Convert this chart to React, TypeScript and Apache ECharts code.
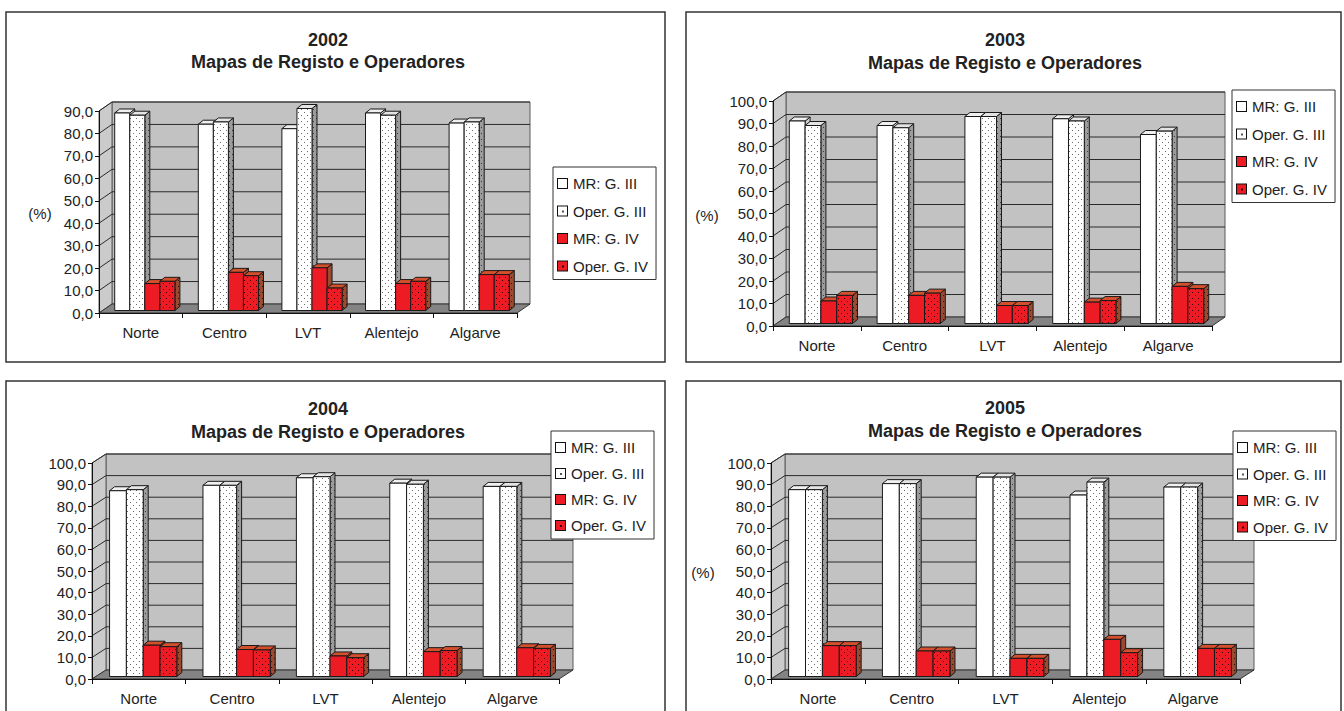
import React, { useEffect, useRef } from 'react';
import * as echarts from 'echarts';

const categories = ['Norte', 'Centro', 'LVT', 'Alentejo', 'Algarve'];
const seriesNames = ['MR: G. III', 'Oper. G. III', 'MR: G. IV', 'Oper. G. IV'];
const years = ['2002', '2003', '2004', '2005'];
const subtitle = 'Mapas de Registo e Operadores';
const unitLabel = '(%)';
const yMaxByYear = [90, 100, 100, 100];
const yInterval = 10;

const mr3_2002 = [88, 83, 81, 88, 83.5];
const op3_2002 = [87, 84, 90, 87, 84];
const mr4_2002 = [12, 17, 19, 12, 16];
const op4_2002 = [13, 15.5, 10, 13, 16];

const mr3_2003 = [90, 88, 92, 91, 84];
const op3_2003 = [88, 87, 92, 90, 85.5];
const mr4_2003 = [10, 12.5, 8, 9.5, 16.5];
const op4_2003 = [12.5, 13.5, 8, 10.2, 15.5];

const mr3_2004 = [86, 88.5, 92, 89.5, 88];
const op3_2004 = [86.5, 88.5, 92.5, 89, 88];
const mr4_2004 = [14.5, 12.5, 9.5, 11.5, 13.3];
const op4_2004 = [13.8, 12.3, 8.7, 12, 13];

const mr3_2005 = [86.5, 89.3, 92.3, 84, 87.7];
const op3_2005 = [86.5, 89.3, 92.3, 90, 87.7];
const mr4_2005 = [14.3, 11.8, 8.4, 17.2, 13];
const op4_2005 = [14.3, 11.8, 8.4, 11, 13];

const valuesByYear = [
  [mr3_2002, op3_2002, mr4_2002, op4_2002],
  [mr3_2003, op3_2003, mr4_2003, op4_2003],
  [mr3_2004, op3_2004, mr4_2004, op4_2004],
  [mr3_2005, op3_2005, mr4_2005, op4_2005],
];

// layout (pixels)
const panels = [
  { box: [6, 12, 659, 350], grid: { left: 99, top: 111, width: 418, height: 202 }, dx: 13, dy: -9, title: [328, 40, 62], legend: { left: 553, top: 167, gap: 12.5 }, pct: [40, 213] },
  { box: [686, 12, 655, 350], grid: { left: 773, top: 101, width: 439, height: 225 }, dx: 13, dy: -9, title: [1005, 40, 63], legend: { left: 1232, top: 90, gap: 12.5 }, pct: [707, 215] },
  { box: [6, 381, 659, 345], grid: { left: 92, top: 463, width: 467, height: 216 }, dx: 14, dy: -9, title: [328, 409, 432], legend: { left: 551, top: 431, gap: 11 }, pct: null },
  { box: [686, 381, 655, 345], grid: { left: 771, top: 463, width: 469, height: 216 }, dx: 14, dy: -9, title: [1005, 408, 431], legend: { left: 1233, top: 431, gap: 11.5 }, pct: [703, 572] },
];

const FONT = '"Liberation Sans", Arial, sans-serif';
const EDGE = '#1a1a1a';

function dotPattern(bg: string, dot: string, size: number, pts: number[][]) {
  const c = document.createElement('canvas');
  c.width = size;
  c.height = size;
  const g = c.getContext('2d')!;
  g.fillStyle = bg;
  g.fillRect(0, 0, size, size);
  g.fillStyle = dot;
  pts.forEach(([x, y]) => g.fillRect(x, y, 1, 1));
  return { image: c.toDataURL(), repeat: 'repeat', imageWidth: size, imageHeight: size } as any;
}

function legendIcon(bg: string, dot: string | null) {
  const s = 11;
  const c = document.createElement('canvas');
  c.width = s;
  c.height = s;
  const g = c.getContext('2d')!;
  g.fillStyle = '#111';
  g.fillRect(0, 0, s, s);
  g.fillStyle = bg;
  g.fillRect(1, 1, s - 2, s - 2);
  if (dot) {
    g.fillStyle = dot;
    g.fillRect(5, 5, 2, 2);
  }
  return 'image://' + c.toDataURL();
}

export default function App() {
  const ref = useRef<HTMLDivElement>(null);

  useEffect(() => {
    if (!ref.current) return;
    const chart = echarts.init(ref.current, undefined, { renderer: 'svg' });

    const fills = [
      { front: '#ffffff', top: '#f0f0f0', side: '#cfcfcf' },
      {
        front: dotPattern('#ffffff', '#6a6a6a', 6, [[1, 1], [4, 4]]),
        top: '#e4e4e4',
        side: dotPattern('#9c9c9c', '#3a3a3a', 6, [[1, 1], [4, 4]]),
      },
      { front: '#ed1c24', top: '#d4502c', side: '#9b4a2f' },
      {
        front: dotPattern('#ed1c24', '#3a0000', 6, [[1, 1], [4, 4]]),
        top: '#d4502c',
        side: dotPattern('#9b4a2f', '#2a1005', 6, [[1, 1], [4, 4]]),
      },
    ];
    const icons = [
      legendIcon('#ffffff', null),
      legendIcon('#ffffff', '#555555'),
      legendIcon('#ed1c24', null),
      legendIcon('#ed1c24', '#3a0000'),
    ];

    const grids: any[] = [];
    const xAxes: any[] = [];
    const yAxes: any[] = [];
    const series: any[] = [];
    const legends: any[] = [];
    const graphics: any[] = [];

    panels.forEach((p, i) => {
      const yMax = yMaxByYear[i];
      grids.push({ ...p.grid, containLabel: false });
      xAxes.push({
        gridIndex: i,
        type: 'category',
        data: categories,
        z: 5,
        axisLine: { lineStyle: { color: '#111', width: 1 } },
        axisTick: { show: true, length: 5, lineStyle: { color: '#111' } },
        axisLabel: { fontSize: 15, color: '#222', margin: 12, fontFamily: FONT },
        splitLine: { show: false },
      });
      yAxes.push({
        gridIndex: i,
        type: 'value',
        min: 0,
        max: yMax,
        interval: yInterval,
        z: 5,
        axisLine: { show: true, lineStyle: { color: '#111', width: 1 } },
        axisTick: { show: true, length: 4, lineStyle: { color: '#111' } },
        axisLabel: {
          fontSize: 15,
          color: '#222',
          margin: 6,
          fontFamily: FONT,
          formatter: (v: number) => v.toFixed(1).replace('.', ','),
        },
        splitLine: { show: false },
      });

      const dx = p.dx;
      const dy = p.dy;

      // frame: back wall, left wall, floor, grid lines
      series.push({
        type: 'custom',
        xAxisIndex: i,
        yAxisIndex: i,
        silent: true,
        z: 1,
        data: [[0, 0]],
        encode: { x: 0, y: 1 },
        renderItem: (params: any, api: any) => {
          const cs = params.coordSys;
          const x0 = cs.x;
          const x1 = cs.x + cs.width;
          const yT = cs.y;
          const yB = cs.y + cs.height;
          const children: any[] = [];
          children.push({
            type: 'rect',
            shape: { x: x0 + dx, y: yT + dy, width: cs.width, height: cs.height },
            style: { fill: '#c2c2c2', stroke: '#5a5a5a', lineWidth: 1 },
          });
          children.push({
            type: 'polygon',
            shape: { points: [[x0, yB], [x0 + dx, yB + dy], [x0 + dx, yT + dy], [x0, yT]] },
            style: { fill: '#cbcbcb', stroke: '#5a5a5a', lineWidth: 1 },
          });
          for (let t = yInterval; t <= yMax; t += yInterval) {
            const y = api.coord([0, t])[1];
            children.push({
              type: 'line',
              shape: { x1: x0 + dx, y1: y + dy, x2: x1 + dx, y2: y + dy },
              style: { stroke: '#2a2a2a', lineWidth: 1 },
            });
            children.push({
              type: 'line',
              shape: { x1: x0, y1: y, x2: x0 + dx, y2: y + dy },
              style: { stroke: '#2a2a2a', lineWidth: 1 },
            });
          }
          children.push({
            type: 'polygon',
            shape: { points: [[x0, yB], [x1, yB], [x1 + dx, yB + dy], [x0 + dx, yB + dy]] },
            style: { fill: '#848484', stroke: '#333', lineWidth: 1 },
          });
          return { type: 'group', children };
        },
      });

      valuesByYear[i].forEach((vals, k) => {
        const f = fills[k];
        series.push({
          type: 'custom',
          name: seriesNames[k],
          xAxisIndex: i,
          yAxisIndex: i,
          z: 2,
          encode: { x: 0, y: 1 },
          itemStyle: { color: f.front, borderColor: EDGE, borderWidth: 1 },
          data: vals.map((v, c) => [c, v]),
          renderItem: (params: any, api: any) => {
            const c = api.value(0);
            const v = api.value(1);
            const p0 = api.coord([c, 0]);
            const p1 = api.coord([c, v]);
            const band = api.size([1, 0])[0];
            const bw = band * 0.18;
            const bdx = 5;
            const bdy = -4;
            const ox = dx / 2 - bdx / 2;
            const oy = dy / 2 - bdy / 2;
            const xl = p0[0] - 2 * bw + k * bw + ox;
            const yb = p0[1] + oy;
            const yt = p1[1] + oy;
            return {
              type: 'group',
              children: [
                {
                  type: 'polygon',
                  shape: { points: [[xl + bw, yt], [xl + bw + bdx, yt + bdy], [xl + bw + bdx, yb + bdy], [xl + bw, yb]] },
                  style: { fill: f.side, stroke: EDGE, lineWidth: 1 },
                },
                {
                  type: 'polygon',
                  shape: { points: [[xl, yt], [xl + bdx, yt + bdy], [xl + bw + bdx, yt + bdy], [xl + bw, yt]] },
                  style: { fill: f.top, stroke: EDGE, lineWidth: 1 },
                },
                {
                  type: 'rect',
                  shape: { x: xl, y: yt, width: bw, height: yb - yt },
                  style: { fill: f.front, stroke: EDGE, lineWidth: 1 },
                },
              ],
            };
          },
        });
      });

      legends.push({
        data: seriesNames.map((n, k) => ({ name: n, icon: icons[k] })),
        orient: 'vertical',
        left: p.legend.left,
        top: p.legend.top,
        itemGap: p.legend.gap,
        itemWidth: 11,
        itemHeight: 11,
        selectedMode: false,
        padding: [9, 8, 6, 4],
        borderColor: '#333',
        borderWidth: 1,
        backgroundColor: '#fff',
        textStyle: { fontSize: 15, color: '#222', fontFamily: FONT },
      });

      graphics.push({
        type: 'rect',
        shape: { x: p.box[0], y: p.box[1], width: p.box[2], height: p.box[3] },
        style: { fill: 'none', stroke: '#333', lineWidth: 1.5 },
        silent: true,
        z: -10,
      });
      graphics.push({
        type: 'text',
        x: p.title[0],
        y: p.title[1],
        style: { text: years[i], font: `bold 18px ${FONT}`, fill: '#222', textAlign: 'center', textVerticalAlign: 'middle' },
      });
      graphics.push({
        type: 'text',
        x: p.title[0],
        y: p.title[2],
        style: { text: subtitle, font: `bold 18px ${FONT}`, fill: '#222', textAlign: 'center', textVerticalAlign: 'middle' },
      });
      if (p.pct) {
        graphics.push({
          type: 'text',
          x: p.pct[0],
          y: p.pct[1],
          style: { text: unitLabel, font: `15px ${FONT}`, fill: '#222', textAlign: 'center', textVerticalAlign: 'middle' },
        });
      }
    });

    chart.setOption({
      animation: false,
      backgroundColor: '#ffffff',
      grid: grids,
      xAxis: xAxes,
      yAxis: yAxes,
      legend: legends,
      series,
      graphic: { elements: graphics },
    });

    return () => chart.dispose();
  }, []);

  return (
    <div
      ref={ref}
      style={{ position: 'absolute', left: 0, top: 0, width: 1344, height: 711, background: '#fff' }}
    />
  );
}
